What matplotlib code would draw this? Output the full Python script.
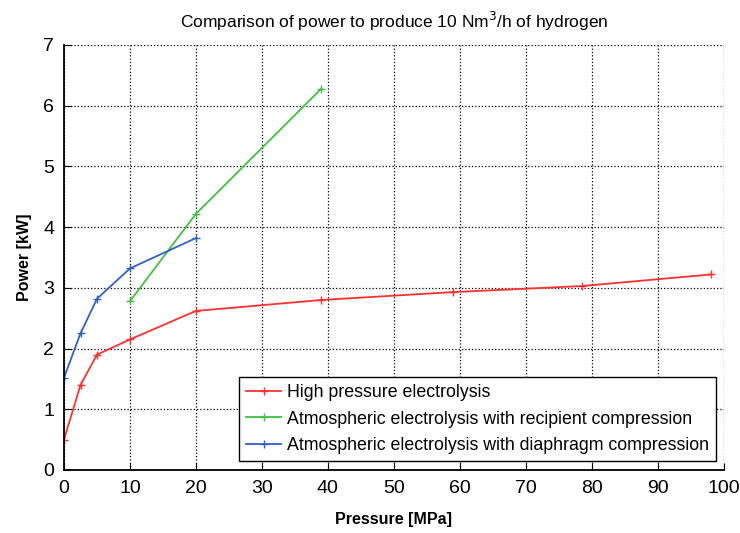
import matplotlib.pyplot as plt

plt.rcParams["font.family"] = ["Liberation Sans", "DejaVu Sans"]

# High pressure electrolysis
hp_pressure = [0, 2.5, 5, 10, 20, 39, 59, 78.5, 98]
hp_power = [0.5, 1.4, 1.9, 2.15, 2.62, 2.8, 2.93, 3.03, 3.22]

# Atmospheric electrolysis with recipient compression
rc_pressure = [10, 20, 39]
rc_power = [2.78, 4.22, 6.28]

# Atmospheric electrolysis with diaphragm compression
dc_pressure = [0, 2.5, 5, 10, 20]
dc_power = [1.52, 2.25, 2.82, 3.32, 3.82]

fig = plt.figure(figsize=(7.4, 5.33), dpi=100)
ax = fig.add_axes([0.0865, 0.1182, 0.8915, 0.7974])

ax.plot(hp_pressure, hp_power, color="#ff3030", marker="+", markersize=6,
        linewidth=1.3, label="High pressure electrolysis")
ax.plot(rc_pressure, rc_power, color="#40c040", marker="+", markersize=6,
        linewidth=1.3, label="Atmospheric electrolysis with recipient compression")
ax.plot(dc_pressure, dc_power, color="#3060c0", marker="+", markersize=6,
        linewidth=1.3, label="Atmospheric electrolysis with diaphragm compression")

ax.set_xlim(0, 100)
ax.set_ylim(0, 7)
ax.set_xticks(range(0, 101, 10))
ax.set_yticks(range(0, 8))
ax.grid(True, color="black", linestyle=":", linewidth=0.9)
ax.spines["top"].set_visible(False)
ax.spines["right"].set_visible(False)
ax.spines["left"].set_linewidth(1.3)
ax.spines["bottom"].set_linewidth(1.3)
ax.tick_params(direction="in", length=5, labelsize=14, pad=7)

ax.set_title("Comparison of power to produce 10 Nm$^3$/h of hydrogen",
             fontsize=12.5, pad=12)
ax.set_xlabel("Pressure [MPa]", fontsize=11.5, fontweight="bold", labelpad=11)
ax.set_ylabel("Power [kW]", fontsize=11.5, fontweight="bold", labelpad=8)

leg = ax.legend(loc="lower left", bbox_to_anchor=(0.265, 0.02), fontsize=12.8,
                fancybox=False, framealpha=1, edgecolor="black",
                borderpad=0.4, labelspacing=0.55, handlelength=2.0,
                handletextpad=0.3, borderaxespad=0)
leg.get_frame().set_linewidth(1.0)

fig.savefig("out.png", dpi=100)
